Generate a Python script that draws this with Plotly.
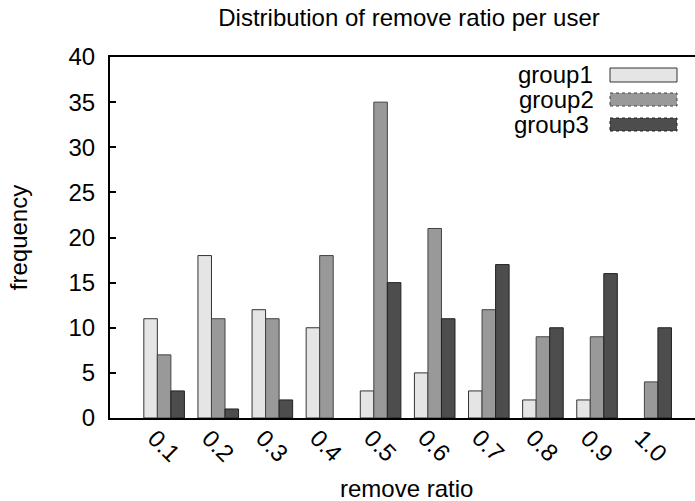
import plotly.graph_objects as go

categories = ["0.1", "0.2", "0.3", "0.4", "0.5", "0.6", "0.7", "0.8", "0.9", "1.0"]
group1 = [11, 18, 12, 10, 3, 5, 3, 2, 2, 0]
group2 = [7, 11, 11, 18, 35, 21, 12, 9, 9, 4]
group3 = [3, 1, 2, 0, 15, 11, 17, 10, 16, 10]
series_names = ["group1", "group2", "group3"]
y_ticks = [0, 5, 10, 15, 20, 25, 30, 35, 40]

fills = ["#e5e5e5", "#999999", "#4d4d4d"]
edges = ["#333333", "#444444", "#222222"]
edge_dash = ["solid", "dot", "dot"]
FONT = "Liberation Sans, Arial, Helvetica, sans-serif"
FS = 24

xpos = list(range(1, len(categories) + 1))

fig = go.Figure()
for name, vals, fc, ec in zip(series_names, [group1, group2, group3], fills, edges):
    fig.add_trace(go.Bar(
        x=xpos, y=vals, name=name,
        marker=dict(color=fc, line=dict(color=ec, width=[1 if v > 0 else 0 for v in vals])),
        showlegend=False,
    ))

W, H = 695, 501
L, R, T, B = 110, 0, 57, 83
pw = W - L - R
ph = H - T - B

def px_x(px):
    return (px - L) / pw

def px_y(py):
    return 1 - (py - T) / ph

annotations = []
for xi, lab in zip(xpos, categories):
    annotations.append(dict(
        x=xi, y=0, xref="x", yref="paper", text=lab, showarrow=False,
        textangle=45, xanchor="center", yanchor="middle",
        yshift=-27, xshift=0, font=dict(family=FONT, size=FS, color="black"),
    ))

# x-axis title
annotations.append(dict(
    x=px_x(406), y=px_y(488), xref="paper", yref="paper",
    text="remove ratio", showarrow=False, xanchor="center", yanchor="middle",
    font=dict(family=FONT, size=FS, color="black"),
))

shapes = []
leg_text_right = [595, 596, 591]
leg_rows = [(68, 82), (93, 106), (118, 131)]
for name, (y0, y1), fc, ec, d, tr in zip(series_names, leg_rows, fills, edges, edge_dash, leg_text_right):
    annotations.append(dict(
        x=px_x(tr), y=px_y((y0 + y1) / 2), xref="paper", yref="paper",
        text=name, showarrow=False, xanchor="right", yanchor="middle",
        font=dict(family=FONT, size=FS, color="black"),
    ))
    shapes.append(dict(
        type="rect", xref="paper", yref="paper",
        x0=px_x(610), x1=px_x(677), y0=px_y(y1), y1=px_y(y0),
        fillcolor=fc, line=dict(color=ec, width=1, dash=d),
    ))

fig.update_layout(
    width=W, height=H,
    margin=dict(l=L, r=R, t=T, b=B),
    paper_bgcolor="white", plot_bgcolor="white",
    barmode="group", bargap=0.25, bargroupgap=0,
    font=dict(family=FONT, size=FS, color="black"),
    title=dict(text="Distribution of remove ratio per user",
               x=409 / W, xref="container", xanchor="center",
               y=1 - 18 / H, yref="container", yanchor="middle",
               font=dict(family=FONT, size=FS, color="black")),
    xaxis=dict(range=[0, 10.81], showticklabels=False, ticks="",
               showgrid=False, zeroline=False,
               showline=True, linecolor="black", linewidth=2, mirror=True),
    yaxis=dict(range=[0, 40], tickvals=y_ticks, ticks="inside", ticklen=6,
               tickwidth=2, tickcolor="black", showgrid=False, zeroline=False,
               showline=True, linecolor="black", linewidth=2, mirror=False,
               tickfont=dict(family=FONT, size=FS, color="black"),
               ticklabelstandoff=8,
               title=dict(text="frequency", standoff=34,
                          font=dict(family=FONT, size=FS, color="black"))),
    annotations=annotations,
    shapes=shapes,
)

fig.write_html("out.html")
